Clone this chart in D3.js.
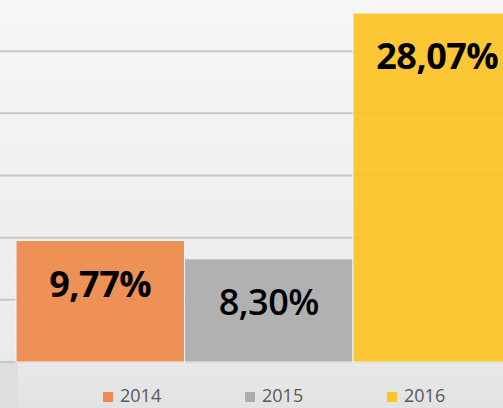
<!DOCTYPE html>
<html>
<head>
<meta charset="utf-8">
<script src="https://cdn.jsdelivr.net/npm/d3@7"></script>
<style>
  body { margin: 0; overflow: hidden; }
</style>
</head>
<body>
<div id="chart"></div>
<script>
const years = ["2014", "2015", "2016"];
const values = [9.77, 8.30, 28.07];
const labels = ["9,77%", "8,30%", "28,07%"];
const labelWeights = ["bold", "600", "bold"];
const colors = ["#ED8B4D", "#ADADAD", "#FBC427"];
const gridTicks = [0, 5, 10, 15, 20, 25];

const width = 503, height = 408;
const baseY = 362;

const svg = d3.select("#chart").append("svg")
    .attr("width", width)
    .attr("height", height);

// background gradient
const defs = svg.append("defs");
const grad = defs.append("linearGradient")
    .attr("id", "bg")
    .attr("x1", 0).attr("y1", 0).attr("x2", 0).attr("y2", 1);
grad.append("stop").attr("offset", "0%").attr("stop-color", "#f6f6f6");
grad.append("stop").attr("offset", "85%").attr("stop-color", "#ebebeb");
grad.append("stop").attr("offset", "100%").attr("stop-color", "#e2e2e2");

svg.append("rect")
    .attr("width", width)
    .attr("height", height)
    .attr("fill", "url(#bg)");

// slightly darker strip at bottom left
svg.append("rect")
    .attr("x", 0).attr("y", baseY)
    .attr("width", 18).attr("height", height - baseY)
    .attr("fill", "#dedede");

const x = d3.scaleBand()
    .domain(years)
    .range([16, 16 + 168.5 * 3])
    .padding(0);

const y = d3.scaleLinear()
    .domain([0, 30])
    .range([baseY, baseY - 373]);

// gridlines
svg.append("g")
    .selectAll("line")
    .data(gridTicks)
    .join("line")
    .attr("x1", 0)
    .attr("x2", width)
    .attr("y1", d => y(d))
    .attr("y2", d => y(d))
    .attr("stroke", "#c8c8c8")
    .attr("stroke-width", 2);

// bars
svg.append("g")
    .selectAll("rect")
    .data(values)
    .join("rect")
    .attr("x", (d, i) => x(years[i]))
    .attr("y", d => y(d))
    .attr("width", x.bandwidth())
    .attr("height", d => baseY - y(d))
    .attr("fill", (d, i) => colors[i])
    .attr("fill-opacity", 0.94)
    .attr("stroke", "#f4f4f4")
    .attr("stroke-width", 1);

// data labels
svg.append("g")
    .selectAll("text")
    .data(values)
    .join("text")
    .attr("x", (d, i) => x(years[i]) + x.bandwidth() / 2)
    .attr("y", d => y(d) + 56)
    .attr("text-anchor", "middle")
    .style("font-family", "'Open Sans', sans-serif")
    .style("font-size", "36px")
    .style("font-weight", (d, i) => labelWeights[i])
    .style("letter-spacing", "-0.5px")
    .attr("fill", "#000")
    .text((d, i) => labels[i]);

// legend
const legendX = [103, 245, 387];
const legend = svg.append("g")
    .selectAll("g")
    .data(years)
    .join("g")
    .attr("transform", (d, i) => `translate(${legendX[i]}, 392)`);

legend.append("rect")
    .attr("width", 10)
    .attr("height", 10)
    .attr("fill", (d, i) => colors[i]);

legend.append("text")
    .attr("x", 17)
    .attr("y", 10)
    .style("font-family", "'Open Sans', sans-serif")
    .style("font-size", "18px")
    .attr("fill", "#595959")
    .text(d => d);
</script>
</body>
</html>
